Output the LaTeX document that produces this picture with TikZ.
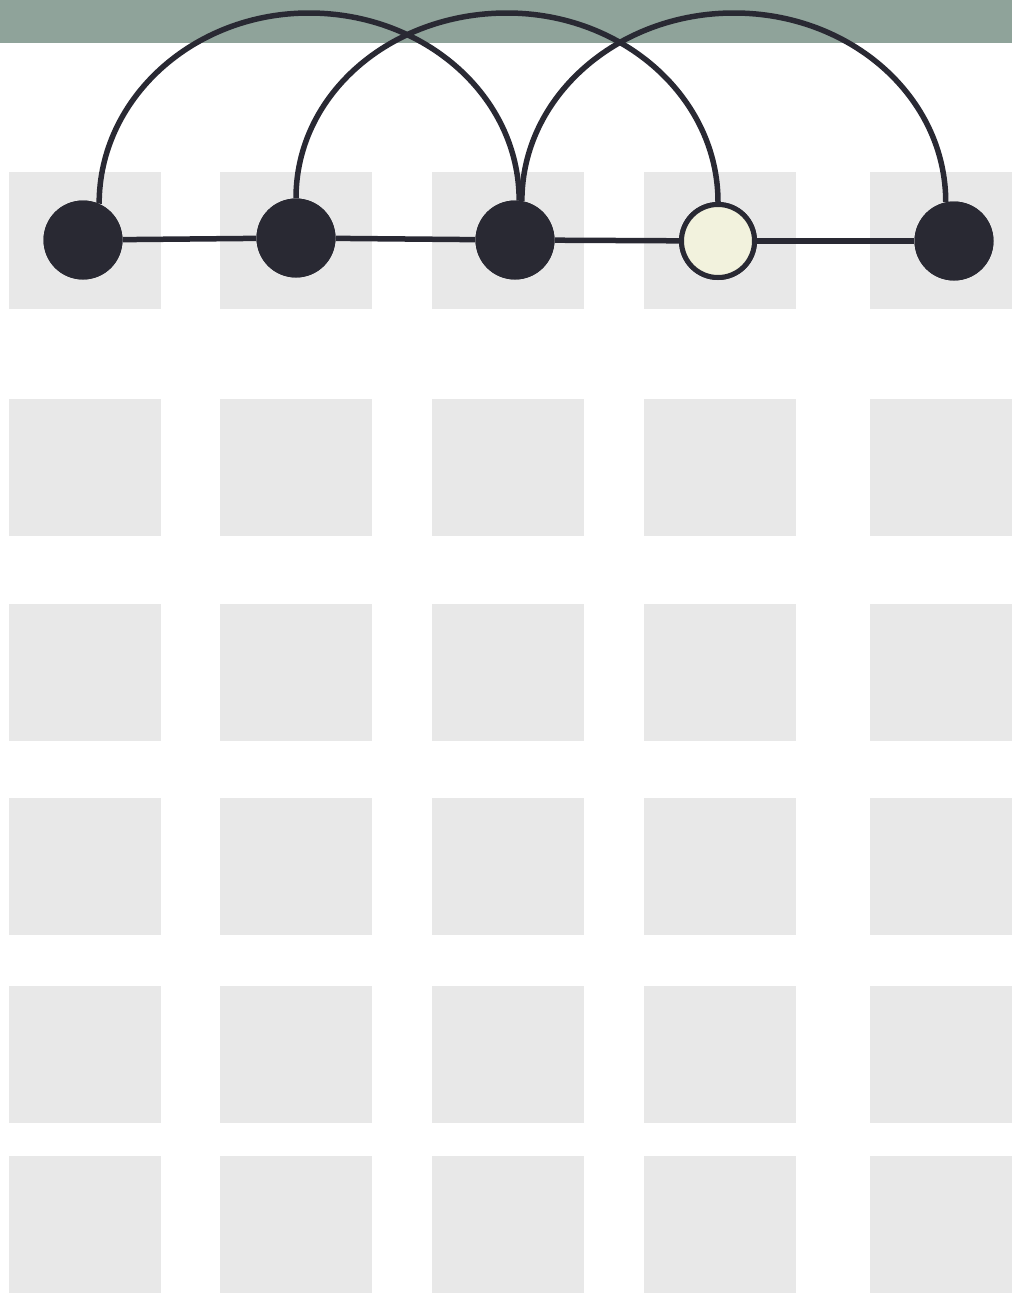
\documentclass[tikz,border=0pt]{standalone}
\begin{document}
\begin{tikzpicture}[x=1pt,y=-1pt,
  cell/.style={fill=cellgray,draw=none},
  darknode/.style={circle,fill=ink,draw=none,minimum size=79pt,inner sep=0pt},
  lightnode/.style={circle,fill=cream,draw=ink,line width=5pt,minimum size=73pt,inner sep=0pt},
  link/.style={draw=ink,line width=5.5pt},
  arcline/.style={draw=ink,line width=5.5pt}]
\definecolor{cellgray}{RGB}{232,232,232}
\definecolor{band}{RGB}{143,163,154}
\definecolor{ink}{RGB}{41,41,51}
\definecolor{cream}{RGB}{242,242,221}
\useasboundingbox (0,0) rectangle (1012,1293);
\fill[white] (0,0) rectangle (1012,1293);
% grid of gray cells
\foreach \ya/\yb in {172/308.5,399/535.5,604/740.5,798/934.5,986/1122.5,1156/1292.5}{
  \foreach \xa/\xb in {9/161,220/372,432/584,644/796,870/1012}{
    \path[cell] (\xa,\ya) rectangle (\xb,\yb);
  }
}
% top band
\fill[band] (0,0) rectangle (1012,42.5);
% nodes (positions)
\node[darknode] (n1) at (83,240) {};
\node[darknode] (n2) at (296,238) {};
\node[darknode] (n3) at (515,240) {};
\node[lightnode] (n4) at (718,241) {};
\node[darknode] (n5) at (954,241) {};
% apex coordinates
\coordinate (t1) at (309,13);
\coordinate (t2) at (507,13);
\coordinate (t3) at (734,13);
% straight links
\draw[link] (n1) -- (n2);
\draw[link] (n2) -- (n3);
\draw[link] (n3) -- (n4);
\draw[link] (n4) -- (n5);
% arcs
\draw[arcline] (n1.66) .. controls +(0,-105) and +(-116,0) .. (t1)
  .. controls +(116,0) and +(0,-104) .. (n3.84);
\draw[arcline] (n2.90) .. controls +(0,-104) and +(-116.5,0) .. (t2)
  .. controls +(116.5,0) and +(0,-104) .. (n4.90);
\draw[arcline] (n3.80) .. controls +(0,-104) and +(-117,0) .. (t3)
  .. controls +(117,0) and +(0,-105) .. (n5.102);
% redraw nodes on top
\node[darknode] at (n1) {};
\node[darknode] at (n2) {};
\node[darknode] at (n3) {};
\node[lightnode] at (n4) {};
\node[darknode] at (n5) {};
\end{tikzpicture}
\end{document}
